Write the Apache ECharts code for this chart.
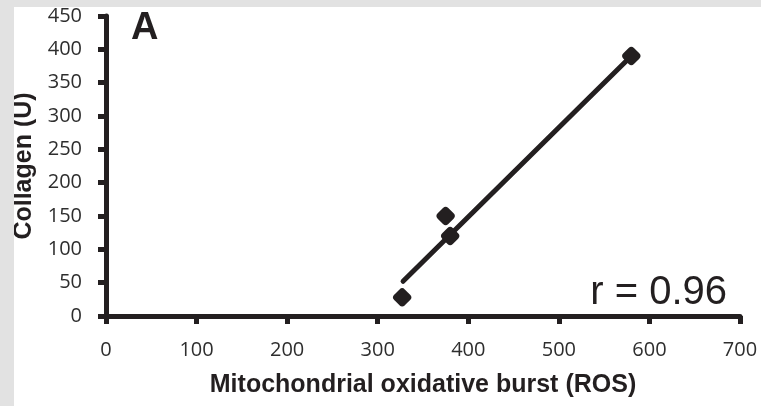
<!DOCTYPE html>
<html>
<head>
<meta charset="utf-8">
<script src="https://cdn.jsdelivr.net/npm/echarts@6/dist/echarts.min.js"></script>
<style>
    html, body { margin: 0; padding: 0; background: #e2e2e2; }
    #chart { position: absolute; left: 14px; top: 7px; width: 747px; height: 399px; background: #fff; }
</style>
</head>
<body>
<div id="chart"></div>
<script>
// values
var rosValues = [327, 375, 380, 580];
var collagenValues = [28, 150, 120, 390];
// ends of the fitted line as drawn
var fitX = [328, 580];
var fitY = [52, 390];

var xTicks = [0, 100, 200, 300, 400, 500, 600, 700];
var yTicks = [0, 50, 100, 150, 200, 250, 300, 350, 400, 450];

var ink = '#231f20';

var points = [];
rosValues.forEach(function (x, i) {
    points.push([x, collagenValues[i]]);
});
var fit = [];
fitX.forEach(function (x, i) {
    fit.push([x, fitY[i]]);
});

var myChart = echarts.init(document.getElementById('chart'));
var option = {
    animation: false,
    grid: {left: 92, top: 9, width: 634, height: 300, containLabel: false, outerBoundsMode: 'none'},
    xAxis: {
        type: 'value',
        min: xTicks[0],
        max: xTicks[xTicks.length - 1],
        interval: 100,
        name: 'Mitochondrial oxidative burst (ROS)',
        nameLocation: 'middle',
        nameGap: 57,
        nameTextStyle: {fontFamily: 'Liberation Sans', fontWeight: 'bold', fontSize: 25, color: ink},
        splitLine: {show: false},
        axisLine: {lineStyle: {color: ink, width: 5}},
        axisTick: {length: 8, lineStyle: {color: ink, width: 5}},
        axisLabel: {margin: 24, fontFamily: 'Open Sans', fontSize: 20, color: '#2e2e2e'}
    },
    yAxis: {
        type: 'value',
        min: yTicks[0],
        max: yTicks[yTicks.length - 1],
        interval: 50,
        name: 'Collagen (U)',
        nameLocation: 'middle',
        nameGap: 66,
        nameTextStyle: {fontFamily: 'Liberation Sans', fontWeight: 'bold', fontSize: 25, color: ink},
        splitLine: {show: false},
        axisLine: {show: true, lineStyle: {color: ink, width: 5}},
        axisTick: {show: true, length: 8, lineStyle: {color: ink, width: 5}},
        axisLabel: {margin: 24, fontFamily: 'Open Sans', fontSize: 20, color: '#2e2e2e'}
    },
    graphic: [
        {
            type: 'text',
            style: {x: 117, y: 22, text: 'A', fill: ink, font: 'bold 38px "Liberation Sans"', align: 'left', verticalAlign: 'middle'}
        },
        {
            type: 'text',
            style: {x: 713, y: 286, text: 'r = 0.96', fill: ink, font: '40px "Liberation Sans"', align: 'right', verticalAlign: 'middle'}
        }
    ],
    series: [
        {
            type: 'line',
            data: fit,
            symbol: 'none',
            lineStyle: {color: ink, width: 5, cap: 'round'},
            z: 2
        },
        {
            type: 'scatter',
            data: points,
            symbol: 'roundRect',
            symbolSize: 15,
            symbolRotate: 45,
            itemStyle: {color: ink, opacity: 1},
            z: 3
        }
    ]
};
option && myChart.setOption(option);
</script>
</body>
</html>
